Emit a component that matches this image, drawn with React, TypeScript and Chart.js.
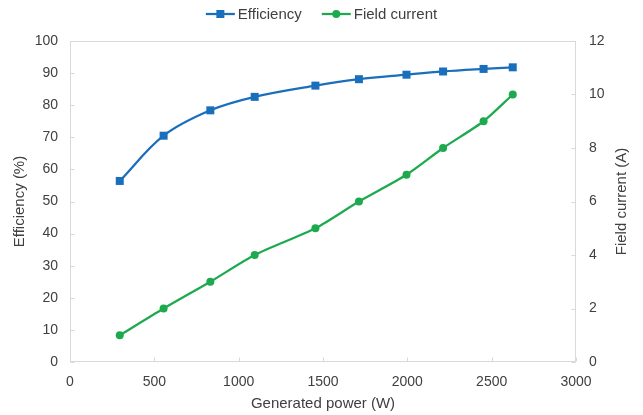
import { useEffect, useRef } from "react";
import { Chart, registerables } from "chart.js";

Chart.register(...registerables);

// Generated power (W) at each measured operating point
const generatedPower = [295, 555, 832, 1095, 1455, 1713, 1995, 2212, 2452, 2625];
// Efficiency (%)
const efficiency = [56.4, 70.5, 78.4, 82.6, 86.1, 88.1, 89.5, 90.5, 91.3, 91.8];
// Field current (A)
const fieldCurrent = [1, 2, 3, 4, 5, 6, 7, 8, 9, 10];

const seriesNames = ["Efficiency", "Field current"];
const xTitle = "Generated power (W)";
const yLeftTitle = "Efficiency (%)";
const yRightTitle = "Field current (A)";

const BLUE = "#1a6fbd";
const GREEN = "#1daa4f";
const TEXT = "#404040";
const FRAME = "#d9d9d9";
const FONT = "'Liberation Sans', Arial, sans-serif";

const decorations = {
  id: "decorations",
  beforeDatasetsDraw(chart: any) {
    const { ctx, chartArea: a, scales } = chart;
    ctx.save();
    ctx.strokeStyle = FRAME;
    ctx.lineWidth = 1;
    const l = Math.round(a.left) + 0.5;
    const r = Math.round(a.right) - 0.5;
    const t = Math.round(a.top) + 0.5;
    const b = Math.round(a.bottom) - 0.5;
    ctx.strokeRect(l, t, r - l, b - t);
    ctx.beginPath();
    // inward tick marks
    scales.x.ticks.forEach((tk: any) => {
      const px = Math.round(scales.x.getPixelForValue(tk.value)) + 0.5;
      ctx.moveTo(px, b);
      ctx.lineTo(px, b - 4);
    });
    scales.y.ticks.forEach((tk: any) => {
      const py = Math.round(scales.y.getPixelForValue(tk.value)) + 0.5;
      ctx.moveTo(l, py);
      ctx.lineTo(l + 4, py);
    });
    scales.y1.ticks.forEach((tk: any) => {
      const py = Math.round(scales.y1.getPixelForValue(tk.value)) + 0.5;
      ctx.moveTo(r, py);
      ctx.lineTo(r - 4, py);
    });
    ctx.stroke();
    ctx.restore();
  },
  afterDraw(chart: any) {
    const { ctx, chartArea: a } = chart;
    ctx.save();
    ctx.fillStyle = TEXT;

    // axis titles
    ctx.font = `15px ${FONT}`;
    ctx.textAlign = "center";
    ctx.textBaseline = "middle";
    ctx.fillText(xTitle, (a.left + a.right) / 2, 404);
    const midY = (a.top + a.bottom) / 2;
    ctx.save();
    ctx.translate(20, midY);
    ctx.rotate(-Math.PI / 2);
    ctx.fillText(yLeftTitle, 0, 0);
    ctx.restore();
    ctx.save();
    ctx.translate(622, midY);
    ctx.rotate(-Math.PI / 2);
    ctx.fillText(yRightTitle, 0, 0);
    ctx.restore();

    // legend: line with marker, then name
    const lineLen = 29;
    const gap = 3;
    const between = 20;
    const w0 = ctx.measureText(seriesNames[0]).width;
    const w1 = ctx.measureText(seriesNames[1]).width;
    const total = lineLen + gap + w0 + between + lineLen + gap + w1;
    let x = chart.width / 2 - total / 2;
    const y = 14;
    const items = [
      { name: seriesNames[0], color: BLUE, square: true, w: w0 },
      { name: seriesNames[1], color: GREEN, square: false, w: w1 },
    ];
    ctx.textAlign = "left";
    items.forEach((it) => {
      ctx.strokeStyle = it.color;
      ctx.fillStyle = it.color;
      ctx.lineWidth = 2.25;
      ctx.beginPath();
      ctx.moveTo(x, y);
      ctx.lineTo(x + lineLen, y);
      ctx.stroke();
      const cx = x + lineLen / 2;
      ctx.beginPath();
      if (it.square) ctx.rect(cx - 4, y - 4, 8, 8);
      else ctx.arc(cx, y, 4, 0, Math.PI * 2);
      ctx.fill();
      ctx.fillStyle = TEXT;
      ctx.fillText(it.name, x + lineLen + gap, y + 1);
      x += lineLen + gap + it.w + between;
    });
    ctx.restore();
  },
};

export default function App() {
  const ref = useRef<HTMLCanvasElement>(null);

  useEffect(() => {
    const tickFont = { family: FONT, size: 14 };
    const plain = (v: any) => String(v);
    const chart = new Chart(ref.current!, {
      type: "line",
      data: {
        datasets: [
          {
            label: seriesNames[0],
            data: generatedPower.map((p, i) => ({ x: p, y: efficiency[i] })),
            yAxisID: "y",
            borderColor: BLUE,
            backgroundColor: BLUE,
            borderWidth: 2.25,
            pointStyle: "rect",
            pointRadius: 5.66,
            pointBorderWidth: 0,
            tension: 0.35,
          },
          {
            label: seriesNames[1],
            data: generatedPower.map((p, i) => ({ x: p, y: fieldCurrent[i] })),
            yAxisID: "y1",
            borderColor: GREEN,
            backgroundColor: GREEN,
            borderWidth: 2.25,
            pointStyle: "circle",
            pointRadius: 4,
            pointBorderWidth: 0,
            tension: 0.25,
          },
        ],
      },
      options: {
        animation: false,
        responsive: true,
        maintainAspectRatio: false,
        layout: { padding: { top: 41, left: 0, right: 0, bottom: 0 } },
        plugins: { legend: { display: false }, tooltip: { enabled: false } },
        scales: {
          x: {
            type: "linear",
            min: 0,
            max: 3000,
            ticks: { stepSize: 500, font: tickFont, color: TEXT, padding: 12, maxRotation: 0, callback: plain },
            grid: { display: false, drawTicks: false },
            border: { display: false },
            afterFit: (s: any) => {
              s.height = 53;
            },
          },
          y: {
            position: "left",
            min: 0,
            max: 100,
            ticks: { stepSize: 10, font: tickFont, color: TEXT, padding: 12, callback: plain },
            grid: { display: false, drawTicks: false },
            border: { display: false },
            afterFit: (s: any) => {
              s.width = 70;
            },
          },
          y1: {
            position: "right",
            min: 0,
            max: 12,
            ticks: { stepSize: 2, font: tickFont, color: TEXT, padding: 13, callback: plain },
            grid: { display: false, drawTicks: false },
            border: { display: false },
            afterFit: (s: any) => {
              s.width = 67;
            },
          },
        },
      },
      plugins: [decorations],
    } as any);
    return () => chart.destroy();
  }, []);

  return (
    <div style={{ position: "fixed", left: 0, top: 0, width: 643, height: 415, background: "#fff" }}>
      <canvas ref={ref} />
    </div>
  );
}
